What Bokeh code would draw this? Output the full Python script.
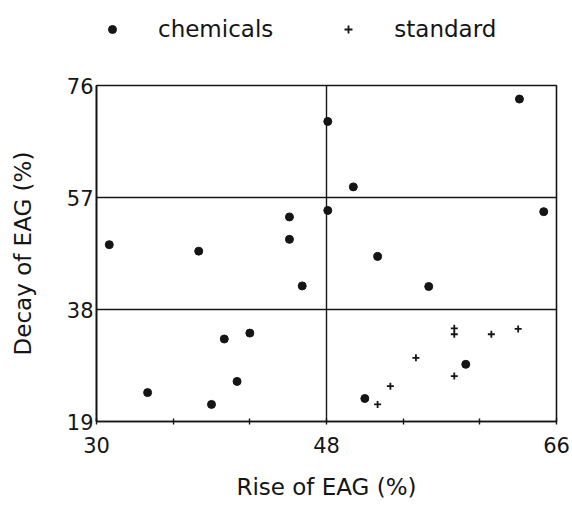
from bokeh.plotting import figure
from bokeh.layouts import column
from bokeh.models import Range1d, FixedTicker, Legend, LegendItem
from bokeh.embed import file_html
from bokeh.resources import INLINE

# Data
chem_x = [31.0, 34.0, 38.0, 39.0, 40.0, 41.0, 42.0, 45.1, 45.1, 46.1, 48.1, 48.1,
          50.1, 52.0, 51.0, 56.0, 58.9, 63.1, 65.0]
chem_y = [49.0, 23.9, 47.9, 21.9, 33.0, 25.8, 34.0, 53.7, 49.9, 42.0, 69.9, 54.8,
          58.8, 47.0, 22.9, 41.9, 28.7, 73.7, 54.6]
std_x = [52.0, 53.0, 55.0, 58.0, 58.0, 58.0, 60.9, 63.0]
std_y = [21.9, 25.0, 29.8, 26.7, 34.8, 33.8, 33.8, 34.7]

series_names = ["chemicals", "standard"]

x_ticks = [30, 36, 42, 48, 54, 60, 66]
x_tick_labels = {30: "30", 36: "", 42: "", 48: "48", 54: "", 60: "", 66: "66"}
y_ticks = [19, 38, 57, 76]
x_grid = [48]
y_grid = [38, 57]

FONT = "DejaVu Sans"
INK = "#151515"

# ---- main scatter plot ----
p = figure(width=572, height=437, output_backend="svg", toolbar_location=None,
           x_range=Range1d(30, 66), y_range=Range1d(19, 76),
           min_border_left=96, min_border_right=16, min_border_top=16, min_border_bottom=85,
           x_axis_label="Rise of EAG (%)", y_axis_label="Decay of EAG (%)")

p.outline_line_color = INK
p.outline_line_width = 1.6
p.outline_line_alpha = 1.0

p.xgrid.ticker = FixedTicker(ticks=x_grid)
p.ygrid.ticker = FixedTicker(ticks=y_grid)
p.grid.grid_line_color = INK
p.grid.grid_line_width = 1.4
p.grid.grid_line_alpha = 1.0

p.xaxis.ticker = FixedTicker(ticks=x_ticks)
p.xaxis.major_label_overrides = x_tick_labels
p.xaxis.major_tick_in = 3
p.xaxis.major_tick_out = 3
p.xaxis.major_label_standoff = 12
p.xaxis.axis_label_standoff = 18

p.yaxis.ticker = FixedTicker(ticks=y_ticks)
p.yaxis.major_tick_in = 0
p.yaxis.major_tick_out = 0
p.yaxis.major_label_standoff = 3
p.yaxis.axis_label_standoff = 28

for ax in (p.xaxis[0], p.yaxis[0]):
    ax.minor_tick_line_color = None
    ax.axis_line_color = INK
    ax.axis_line_width = 1.6
    ax.major_tick_line_color = INK
    ax.major_tick_line_width = 1.4
    ax.major_label_text_font = FONT
    ax.major_label_text_font_size = "21px"
    ax.major_label_text_color = INK
    ax.axis_label_text_font = FONT
    ax.axis_label_text_font_size = "23px"
    ax.axis_label_text_font_style = "normal"
    ax.axis_label_text_color = INK

p.scatter(chem_x, chem_y, marker="circle", size=8, fill_color=INK, line_color=INK)
p.scatter(std_x, std_y, marker="cross", size=7, line_color=INK, line_width=1.8)

# ---- legend strip above the plot (its frame is aligned with the main frame) ----
top = figure(width=572, height=69, output_backend="svg", toolbar_location=None,
             x_axis_type=None, y_axis_type=None,
             x_range=Range1d(0, 1), y_range=Range1d(0, 1),
             min_border_left=96, min_border_right=16, min_border_top=0, min_border_bottom=0)
top.outline_line_color = None
top.grid.visible = False
# same series drawn into this strip (out of its visible range) only to feed the legend
l1 = top.scatter(chem_x, chem_y, marker="circle", size=9, fill_color=INK, line_color=INK)
l2 = top.scatter(std_x, std_y, marker="cross", size=7, line_color=INK, line_width=1.8)

legend = Legend(items=[LegendItem(label=series_names[0], renderers=[l1]),
                       LegendItem(label=series_names[1], renderers=[l2])],
                location=(6, 27), orientation="horizontal", padding=0, margin=0,
                spacing=65, label_standoff=36, glyph_width=20, glyph_height=20,
                border_line_color=None, background_fill_alpha=0,
                label_text_font=FONT, label_text_font_size="23px", label_text_color=INK)
top.add_layout(legend)

layout = column(top, p, spacing=0)
open("out.html", "w").write(file_html(layout, INLINE))
